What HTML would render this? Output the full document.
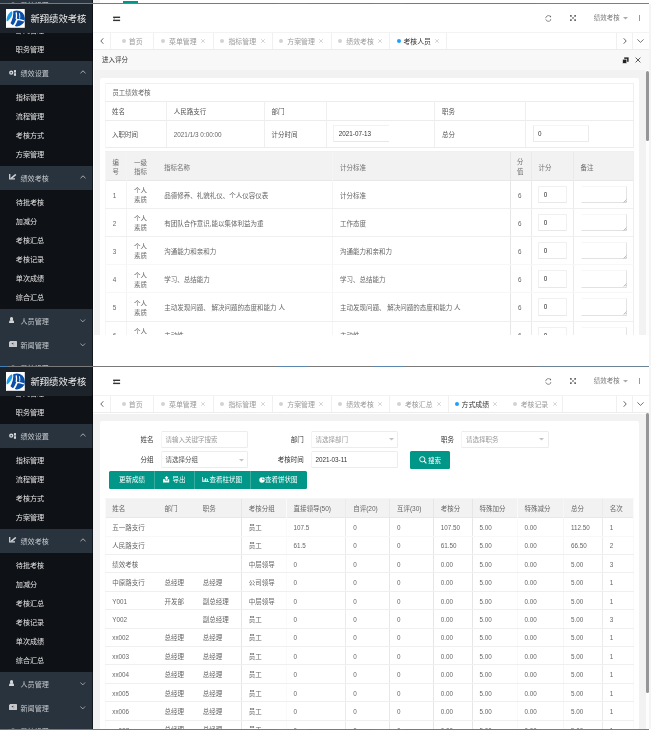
<!DOCTYPE html><html><head><meta charset="utf-8"><style>

*{margin:0;padding:0;box-sizing:border-box}
html,body{width:651px;height:732px;overflow:hidden;background:#fff}
body{position:relative;font-family:"Liberation Sans","Noto Sans CJK SC",sans-serif;font-size:6.5px;color:#333;line-height:1}
.abs{position:absolute}
.scr{position:absolute;left:0;width:651px;height:362px;overflow:hidden;background:#fff}
.sep{position:absolute;left:0;width:649px;height:1px;background:#7a7a7a;z-index:20}
.sep i{position:absolute;top:0;height:1px;background:#5a86b0}
.side{position:absolute;left:0;top:0;width:93px;height:362px;background:#0e1116;overflow:hidden}
.side .menu{position:absolute;left:0;top:16.2px;width:93px}
.sub{background:#0e1116;padding:2.3px 0}
.sub div{height:19.1px;line-height:23.1px;padding-left:15.8px;color:#e2e2e2;font-size:7.1px;white-space:nowrap}
.grp{height:24px;line-height:26.4px;background:#28333d;color:#c4c8cc;font-size:7.1px;position:relative;padding-left:20.5px;white-space:nowrap}
.grp svg{position:absolute}
.logo{position:absolute;left:0;top:0;width:93px;height:28.6px;background:#1d232b;z-index:2}
.logo .t{position:absolute;left:30.5px;top:10.8px;font-size:9.3px;color:#eeeeee;white-space:nowrap}
.sline{position:absolute;left:92px;top:0;width:1px;height:362px;background:rgba(0,0,0,0.5);z-index:3}
.hdr{position:absolute;left:93px;top:0;width:558px;height:28px;background:#fff}
.tabs{position:absolute;left:93px;top:28px;width:556px;height:17.6px;background:#fff;border-top:1px solid #f3f3f3;border-bottom:1px solid #ececec}
.tab{position:absolute;top:0;height:16px;border-left:1px solid #f0f0f0;color:#999;font-size:6.5px;line-height:16px;white-space:nowrap}
.tab .d{position:absolute;top:6px;width:4px;height:4px;border-radius:50%;background:#d2d2d2}
.tab .x{position:absolute;top:0;color:#b5b5b5;font-size:6.5px}
.rstrip{position:absolute;left:649px;top:0;width:2px;height:362px;background:#f4f4f4;z-index:5}
.main{position:absolute;left:94px;top:45.6px;width:555px;height:316.4px;background:#f2f2f2}

</style></head><body>
<div class="abs" style="left:0;top:0;width:651px;height:3px;overflow:hidden"><div class="abs" style="left:0;top:-359px;width:651px;height:362px"><div class="side"><div class="menu"><div class="sub" style="padding-top:0"><div>部门管理</div><div>职务管理</div></div><div class="grp"><svg style="left:9px;top:9.5px" width="8" height="6.4" viewBox="0 0 8 6.4"><circle cx="2.2" cy="2.75" r="1.45" fill="none" stroke="#d4d6d9" stroke-width="1.35"/><rect x="4.9" y="0.1" width="2.1" height="2.5" fill="#d4d6d9"/><rect x="4.9" y="3.2" width="2.1" height="2.6" fill="#d4d6d9"/><rect x="4.9" y="2.5" width="1.2" height="0.8" fill="#8a9096"/></svg>绩效设置<svg style="left:80px;top:9.7px" width="6" height="4" viewBox="0 0 6 4"><path d="M0.5 3.2 L3 0.8 L5.5 3.2" stroke="#c9cdd1" stroke-width="0.8" fill="none"/></svg></div><div class="sub"><div>指标管理</div><div>流程管理</div><div>考核方式</div><div>方案管理</div></div><div class="grp"><svg style="left:8.8px;top:8.2px" width="8" height="6" viewBox="0 0 8 6"><path d="M0.7 0 V4.8 H6" stroke="#d0d2d6" stroke-width="1.3" fill="none"/><path d="M2.2 4.3 L6.8 0.5" stroke="#d0d2d6" stroke-width="1.6"/></svg>绩效考核<svg style="left:80px;top:9.7px" width="6" height="4" viewBox="0 0 6 4"><path d="M0.5 3.2 L3 0.8 L5.5 3.2" stroke="#c9cdd1" stroke-width="0.8" fill="none"/></svg></div><div class="sub"><div>待批考核</div><div>加减分</div><div>考核汇总</div><div>考核记录</div><div>单次成绩</div><div>综合汇总</div></div><div class="grp"><svg style="left:9px;top:8px" width="5.2" height="6.2" viewBox="0 0 5.2 6.2"><ellipse cx="2.55" cy="1.9" rx="1.6" ry="1.9" fill="#d6d6d6"/><path d="M0 6.1 L0.3 3.9 Q0.6 3.3 1.6 3.3 H3.5 Q4.5 3.3 4.8 3.9 L5.1 6.1Z" fill="#d6d6d6"/></svg>人员管理<svg style="left:79.7px;top:10.6px" width="6" height="4" viewBox="0 0 6 4"><path d="M0.4 0.5 L2.75 2.9 L5.1 0.5" stroke="#c9cdd1" stroke-width="0.7" fill="none"/></svg></div><div class="grp"><svg style="left:8.9px;top:8px" width="8" height="6" viewBox="0 0 8 6"><rect x="0" y="0" width="8" height="5.9" rx="0.5" fill="#c6c8cb"/><rect x="0" y="0" width="0.8" height="0.8" fill="#29323c"/><ellipse cx="3.5" cy="2.6" rx="0.9" ry="0.6" fill="#3a4048"/><rect x="4.6" y="1.4" width="0.5" height="3.4" fill="#8c9096"/></svg>新闻管理<svg style="left:79.7px;top:10.6px" width="6" height="4" viewBox="0 0 6 4"><path d="M0.4 0.5 L2.75 2.9 L5.1 0.5" stroke="#c9cdd1" stroke-width="0.7" fill="none"/></svg></div><div class="grp" style="line-height:24.6px"><svg style="left:10px;top:8.2px" width="6" height="6" viewBox="0 0 6 6"><circle cx="3" cy="3" r="2.2" fill="none" stroke="#c0c4c8" stroke-width="0.8"/></svg>系统设置<svg style="left:79.7px;top:10.6px" width="6" height="4" viewBox="0 0 6 4"><path d="M0.4 0.5 L2.75 2.9 L5.1 0.5" stroke="#c9cdd1" stroke-width="0.7" fill="none"/></svg></div></div></div><div class="logo"><svg class="abs" style="left:6.3px;top:4.9px" width="18.8" height="18.8" viewBox="0 0 18.8 18.8"><rect width="18.8" height="18.8" fill="#fff"/><circle cx="10.9" cy="9.4" r="8.0" fill="#0a4ea8"/><path d="M0 0 H6.9 Q8.6 8.2 3.2 16.6 L0 18.8 Z" fill="#fff"/><path d="M5.9 2.2 C7.6 4.6 4.6 10.6 0.7 12.6 C0 9.4 1.8 4 5.9 2.2 Z" fill="#1a9fe8"/><path d="M10.2 3.4 Q10.9 7 10.2 10.2" stroke="#fff" stroke-width="1.3" fill="none"/><path d="M11.2 10.2 Q9.6 14.5 7.2 17.6" stroke="#fff" stroke-width="1.8" fill="none"/><path d="M10.8 10.3 Q14.5 10.4 17.9 11.8" stroke="#fff" stroke-width="1.3" fill="none"/><path d="M13.4 4.2 Q14.2 7.5 13.6 9.6" stroke="#fff" stroke-width="0.9" fill="none"/></svg><div class="t">新翔绩效考核</div></div><div class="sline"></div></div></div>
<div class="abs" style="left:123px;top:1px;width:15px;height:2px;background:#009688"></div>
<div class="abs" style="left:93px;top:0;width:7px;height:3px;background:#f2f2f2"></div>
<div class="sep" style="top:3px"><i style="left:0;width:8px;background:#3f7fb5"></i><i style="left:277px;width:31px"></i><i style="left:373px;width:31px"></i><i style="left:537px;width:112px;background:#6c8297"></i></div>
<div class="scr" id="A" style="top:4px"><div class="side"><div class="menu"><div class="sub" style="padding-top:0"><div>部门管理</div><div>职务管理</div></div><div class="grp"><svg style="left:9px;top:9.5px" width="8" height="6.4" viewBox="0 0 8 6.4"><circle cx="2.2" cy="2.75" r="1.45" fill="none" stroke="#d4d6d9" stroke-width="1.35"/><rect x="4.9" y="0.1" width="2.1" height="2.5" fill="#d4d6d9"/><rect x="4.9" y="3.2" width="2.1" height="2.6" fill="#d4d6d9"/><rect x="4.9" y="2.5" width="1.2" height="0.8" fill="#8a9096"/></svg>绩效设置<svg style="left:80px;top:9.7px" width="6" height="4" viewBox="0 0 6 4"><path d="M0.5 3.2 L3 0.8 L5.5 3.2" stroke="#c9cdd1" stroke-width="0.8" fill="none"/></svg></div><div class="sub"><div>指标管理</div><div>流程管理</div><div>考核方式</div><div>方案管理</div></div><div class="grp"><svg style="left:8.8px;top:8.2px" width="8" height="6" viewBox="0 0 8 6"><path d="M0.7 0 V4.8 H6" stroke="#d0d2d6" stroke-width="1.3" fill="none"/><path d="M2.2 4.3 L6.8 0.5" stroke="#d0d2d6" stroke-width="1.6"/></svg>绩效考核<svg style="left:80px;top:9.7px" width="6" height="4" viewBox="0 0 6 4"><path d="M0.5 3.2 L3 0.8 L5.5 3.2" stroke="#c9cdd1" stroke-width="0.8" fill="none"/></svg></div><div class="sub"><div>待批考核</div><div>加减分</div><div>考核汇总</div><div>考核记录</div><div>单次成绩</div><div>综合汇总</div></div><div class="grp"><svg style="left:9px;top:8px" width="5.2" height="6.2" viewBox="0 0 5.2 6.2"><ellipse cx="2.55" cy="1.9" rx="1.6" ry="1.9" fill="#d6d6d6"/><path d="M0 6.1 L0.3 3.9 Q0.6 3.3 1.6 3.3 H3.5 Q4.5 3.3 4.8 3.9 L5.1 6.1Z" fill="#d6d6d6"/></svg>人员管理<svg style="left:79.7px;top:10.6px" width="6" height="4" viewBox="0 0 6 4"><path d="M0.4 0.5 L2.75 2.9 L5.1 0.5" stroke="#c9cdd1" stroke-width="0.7" fill="none"/></svg></div><div class="grp"><svg style="left:8.9px;top:8px" width="8" height="6" viewBox="0 0 8 6"><rect x="0" y="0" width="8" height="5.9" rx="0.5" fill="#c6c8cb"/><rect x="0" y="0" width="0.8" height="0.8" fill="#29323c"/><ellipse cx="3.5" cy="2.6" rx="0.9" ry="0.6" fill="#3a4048"/><rect x="4.6" y="1.4" width="0.5" height="3.4" fill="#8c9096"/></svg>新闻管理<svg style="left:79.7px;top:10.6px" width="6" height="4" viewBox="0 0 6 4"><path d="M0.4 0.5 L2.75 2.9 L5.1 0.5" stroke="#c9cdd1" stroke-width="0.7" fill="none"/></svg></div><div class="grp" style="line-height:24.6px"><svg style="left:10px;top:8.2px" width="6" height="6" viewBox="0 0 6 6"><circle cx="3" cy="3" r="2.2" fill="none" stroke="#c0c4c8" stroke-width="0.8"/></svg>系统设置<svg style="left:79.7px;top:10.6px" width="6" height="4" viewBox="0 0 6 4"><path d="M0.4 0.5 L2.75 2.9 L5.1 0.5" stroke="#c9cdd1" stroke-width="0.7" fill="none"/></svg></div></div></div><div class="logo"><svg class="abs" style="left:6.3px;top:4.9px" width="18.8" height="18.8" viewBox="0 0 18.8 18.8"><rect width="18.8" height="18.8" fill="#fff"/><circle cx="10.9" cy="9.4" r="8.0" fill="#0a4ea8"/><path d="M0 0 H6.9 Q8.6 8.2 3.2 16.6 L0 18.8 Z" fill="#fff"/><path d="M5.9 2.2 C7.6 4.6 4.6 10.6 0.7 12.6 C0 9.4 1.8 4 5.9 2.2 Z" fill="#1a9fe8"/><path d="M10.2 3.4 Q10.9 7 10.2 10.2" stroke="#fff" stroke-width="1.3" fill="none"/><path d="M11.2 10.2 Q9.6 14.5 7.2 17.6" stroke="#fff" stroke-width="1.8" fill="none"/><path d="M10.8 10.3 Q14.5 10.4 17.9 11.8" stroke="#fff" stroke-width="1.3" fill="none"/><path d="M13.4 4.2 Q14.2 7.5 13.6 9.6" stroke="#fff" stroke-width="0.9" fill="none"/></svg><div class="t">新翔绩效考核</div></div><div class="sline"></div><div class="hdr"><svg class="abs" style="left:19.8px;top:11.5px" width="8" height="6" viewBox="0 0 8 6"><rect x="0.1" y="0.6" width="7" height="1.4" fill="#333"/><rect x="0.1" y="3.7" width="7" height="1.4" fill="#333"/><path d="M0.1 3.0 L1.9 2.2 L1.9 3.6Z" fill="#666"/></svg><svg class="abs" style="left:451.8px;top:10.8px" width="7" height="7" viewBox="0 0 7 7"><path d="M0.7 3.2 A2.7 2.7 0 0 1 4.6 0.9" stroke="#666" stroke-width="0.75" fill="none"/><path d="M4.3 0.6 L6.1 0.9 L5.7 2.7 Z" fill="#555"/><path d="M0.8 4.3 A2.7 2.7 0 0 0 5.6 5.2" stroke="#666" stroke-width="0.75" fill="none"/><path d="M5.0 4.2 L6.4 4.5 L5.6 6.1 Z" fill="#777"/></svg><svg class="abs" style="left:476.7px;top:10.8px" width="6" height="6" viewBox="0 0 6 6"><path d="M1 1 L5 5 M5 1 L1 5" stroke="#666" stroke-width="0.6"/><path d="M0 0 H2.2 L0 2.2Z M6 0 H3.8 L6 2.2Z M0 6 H2.2 L0 3.8Z M6 6 H3.8 L6 3.8Z" fill="#666"/></svg><div class="abs" style="left:500.8px;top:10.5px;font-size:6.5px;color:#777;white-space:nowrap">绩效考核</div><svg class="abs" style="left:529.5px;top:13px" width="5" height="3" viewBox="0 0 5 3"><path d="M0 0 H5 L2.5 2.6Z" fill="#aaa"/></svg><div class="abs" style="left:545.5px;top:11px;width:1px;height:5.8px;background:#9a94b0"></div></div><div class="tabs"><svg class="abs" style="left:6.5px;top:4.9px" width="4" height="6" viewBox="0 0 4 6"><path d="M3.3 0.3 L0.8 3 L3.3 5.7" stroke="#333" stroke-width="0.75" fill="none"/></svg><div class="tab" style="left:16.60px;width:43.80px;"><span class="d" style="left:11.50px;background:#d2d2d2"></span><span class="abs" style="left:18.20px;top:5.95px;font-size:6.9px;line-height:1;color:#9a9a9a">首页</span></div><div class="tab" style="left:60.40px;width:59.40px;"><span class="d" style="left:6.50px;background:#d2d2d2"></span><span class="abs" style="left:14.70px;top:5.95px;font-size:6.9px;line-height:1;color:#9a9a9a">菜单管理</span><svg class="abs" style="left:46.80px;top:5.9px" width="4" height="4" viewBox="0 0 4 4"><path d="M0.2 0.2 L3.8 3.8 M3.8 0.2 L0.2 3.8" stroke="#b8b8b8" stroke-width="0.6"/></svg></div><div class="tab" style="left:119.80px;width:58.80px;"><span class="d" style="left:6.50px;background:#d2d2d2"></span><span class="abs" style="left:14.70px;top:5.95px;font-size:6.9px;line-height:1;color:#9a9a9a">指标管理</span><svg class="abs" style="left:46.80px;top:5.9px" width="4" height="4" viewBox="0 0 4 4"><path d="M0.2 0.2 L3.8 3.8 M3.8 0.2 L0.2 3.8" stroke="#b8b8b8" stroke-width="0.6"/></svg></div><div class="tab" style="left:178.60px;width:59.00px;"><span class="d" style="left:6.50px;background:#d2d2d2"></span><span class="abs" style="left:14.70px;top:5.95px;font-size:6.9px;line-height:1;color:#9a9a9a">方案管理</span><svg class="abs" style="left:46.80px;top:5.9px" width="4" height="4" viewBox="0 0 4 4"><path d="M0.2 0.2 L3.8 3.8 M3.8 0.2 L0.2 3.8" stroke="#b8b8b8" stroke-width="0.6"/></svg></div><div class="tab" style="left:237.60px;width:58.80px;"><span class="d" style="left:6.50px;background:#d2d2d2"></span><span class="abs" style="left:14.70px;top:5.95px;font-size:6.9px;line-height:1;color:#9a9a9a">绩效考核</span><svg class="abs" style="left:46.80px;top:5.9px" width="4" height="4" viewBox="0 0 4 4"><path d="M0.2 0.2 L3.8 3.8 M3.8 0.2 L0.2 3.8" stroke="#b8b8b8" stroke-width="0.6"/></svg></div><div class="tab" style="left:296.40px;width:56.90px;"><span class="d" style="left:6.50px;background:#1E9FFF"></span><span class="abs" style="left:13.00px;top:5.95px;font-size:6.9px;line-height:1;color:#333">考核人员</span><svg class="abs" style="left:44.60px;top:5.9px" width="4" height="4" viewBox="0 0 4 4"><path d="M0.2 0.2 L3.8 3.8 M3.8 0.2 L0.2 3.8" stroke="#b8b8b8" stroke-width="0.6"/></svg></div><div class="abs" style="left:352.80px;top:0;width:1px;height:16px;background:#f0f0f0"></div><div class="tab" style="left:523px;width:16px"></div><svg class="abs" style="left:529.6px;top:4.7px" width="4" height="6" viewBox="0 0 4 6"><path d="M0.7 0.3 L3.2 3 L0.7 5.7" stroke="#333" stroke-width="0.75" fill="none"/></svg><div class="tab" style="left:539px;width:17px"></div><svg class="abs" style="left:544px;top:5.8px" width="7" height="4" viewBox="0 0 7 4"><path d="M0.4 0.4 L3.5 3.4 L6.6 0.4" stroke="#444" stroke-width="0.75" fill="none"/></svg></div><div class="abs" style="left:94.00px;top:45.60px;width:555.00px;height:20.40px;background:#f8f8f8"></div><span class="abs" style="left:102.00px;top:53.35px;font-size:6.5px;color:#333;white-space:nowrap;">进入评分</span><svg class="abs" style="left:621.5px;top:53px" width="7" height="7" viewBox="0 0 7 7"><rect x="2.2" y="0.4" width="4.4" height="4.4" fill="#222"/><rect x="0.4" y="2.2" width="4.4" height="4.4" fill="#222" stroke="#f8f8f8" stroke-width="0.7"/></svg><svg class="abs" style="left:635px;top:53.3px" width="6" height="6" viewBox="0 0 6 6"><path d="M0.6 0.6 L5.4 5.4 M5.4 0.6 L0.6 5.4" stroke="#333" stroke-width="0.8"/></svg><div class="abs" style="left:94.00px;top:66.00px;width:555.00px;height:264.60px;background:#f2f2f2;overflow:hidden"></div><div class="abs" style="left:646.00px;top:66.00px;width:3.00px;height:264.60px;background:#fdfdfd"></div><div class="abs" style="left:646.00px;top:66.90px;width:3.00px;height:70.20px;background:#959597;border-radius:1.5px"></div><div class="abs" style="left:100.00px;top:74.00px;width:538.60px;height:256.60px;background:#fff;border-radius:2px 2px 0 0"></div><div class="abs" style="left:105.00px;top:79.00px;width:529.00px;height:1.00px;background:#efefef"></div><div class="abs" style="left:105.00px;top:143.00px;width:529.00px;height:1.00px;background:#ececec"></div><div class="abs" style="left:105.00px;top:79.00px;width:1.00px;height:65.00px;background:#f7f7f7"></div><div class="abs" style="left:633.00px;top:79.00px;width:1.00px;height:65.00px;background:#efefef"></div><div class="abs" style="left:105.00px;top:97.00px;width:529.00px;height:1.00px;background:#ececec"></div><div class="abs" style="left:105.00px;top:116.00px;width:529.00px;height:1.00px;background:#ececec"></div><div class="abs" style="left:166.00px;top:97.00px;width:1.00px;height:46.00px;background:#efefef"></div><div class="abs" style="left:264.00px;top:97.00px;width:1.00px;height:46.00px;background:#efefef"></div><div class="abs" style="left:326.00px;top:97.00px;width:1.00px;height:46.00px;background:#efefef"></div><div class="abs" style="left:434.00px;top:97.00px;width:1.00px;height:46.00px;background:#efefef"></div><div class="abs" style="left:525.00px;top:97.00px;width:1.00px;height:46.00px;background:#efefef"></div><span class="abs" style="left:112.40px;top:86.38px;font-size:6.4px;color:#666;white-space:nowrap;">员工绩效考核</span><span class="abs" style="left:112.00px;top:105.25px;font-size:6.5px;color:#555;white-space:nowrap;">姓名</span><span class="abs" style="left:173.70px;top:105.25px;font-size:6.5px;color:#555;white-space:nowrap;">人民路支行</span><span class="abs" style="left:271.40px;top:105.25px;font-size:6.5px;color:#555;white-space:nowrap;">部门</span><span class="abs" style="left:442.00px;top:105.25px;font-size:6.5px;color:#555;white-space:nowrap;">职务</span><span class="abs" style="left:112.00px;top:128.15px;font-size:6.5px;color:#555;white-space:nowrap;">入职时间</span><span class="abs" style="left:173.70px;top:128.18px;font-size:6.4px;color:#666;white-space:nowrap;">2021/1/3 0:00:00</span><span class="abs" style="left:271.40px;top:128.15px;font-size:6.5px;color:#555;white-space:nowrap;">计分时间</span><span class="abs" style="left:442.00px;top:128.15px;font-size:6.5px;color:#555;white-space:nowrap;">总分</span><div class="abs" style="left:333.30px;top:121.20px;width:55.30px;height:17.10px;border:1px solid #f2f2f2;border-right:none;border-bottom-color:#e8e8e8;background:#fff"></div><span class="abs" style="left:338.80px;top:127.31px;font-size:6.3px;color:#333;white-space:nowrap;">2021-07-13</span><div class="abs" style="left:533.20px;top:121.20px;width:55.40px;height:17.00px;border:1px solid #ebebeb;border-top-color:#f5f5f5;background:#fff"></div><span class="abs" style="left:537.90px;top:127.31px;font-size:6.3px;color:#333;white-space:nowrap;">0</span><div class="abs" style="left:105.00px;top:148.00px;width:529.00px;height:28.00px;background:#f2f2f2"></div><div class="abs" style="left:105.00px;top:147.00px;width:529.00px;height:1.00px;background:#f0f0f0"></div><div class="abs" style="left:105.00px;top:176.00px;width:529.00px;height:1.00px;background:#e8e8e8"></div><div class="abs" style="left:105.00px;top:148.00px;width:1.00px;height:182.60px;background:#f7f7f7"></div><div class="abs" style="left:126.00px;top:148.00px;width:1.00px;height:182.60px;background:#f4f4f4"></div><div class="abs" style="left:332.00px;top:148.00px;width:1.00px;height:182.60px;background:#f5f5f5"></div><div class="abs" style="left:510.00px;top:148.00px;width:1.00px;height:182.60px;background:#e6e6e6"></div><div class="abs" style="left:531.00px;top:148.00px;width:1.00px;height:182.60px;background:#eaeaea"></div><div class="abs" style="left:573.00px;top:148.00px;width:1.00px;height:182.60px;background:#eaeaea"></div><div class="abs" style="left:633.00px;top:148.00px;width:1.00px;height:182.60px;background:#eeeeee"></div><div class="abs" style="left:105.00px;top:204.00px;width:529.00px;height:1.00px;background:#efefef"></div><div class="abs" style="left:105.00px;top:232.00px;width:529.00px;height:1.00px;background:#efefef"></div><div class="abs" style="left:105.00px;top:260.00px;width:529.00px;height:1.00px;background:#f7f7f7"></div><div class="abs" style="left:105.00px;top:288.00px;width:529.00px;height:1.00px;background:#f7f7f7"></div><div class="abs" style="left:105.00px;top:317.00px;width:529.00px;height:1.00px;background:#efefef"></div><span class="abs" style="left:112.50px;top:155.71px;font-size:6.3px;color:#707070;white-space:nowrap;">编</span><span class="abs" style="left:112.50px;top:164.71px;font-size:6.3px;color:#707070;white-space:nowrap;">号</span><span class="abs" style="left:134.10px;top:155.95px;font-size:6.5px;color:#707070;white-space:nowrap;">一级</span><span class="abs" style="left:134.10px;top:164.95px;font-size:6.5px;color:#707070;white-space:nowrap;">指标</span><span class="abs" style="left:164.00px;top:160.75px;font-size:6.5px;color:#707070;white-space:nowrap;">指标名称</span><span class="abs" style="left:340.00px;top:160.75px;font-size:6.5px;color:#707070;white-space:nowrap;">计分标准</span><span class="abs" style="left:517.00px;top:155.41px;font-size:6.3px;color:#707070;white-space:nowrap;">分</span><span class="abs" style="left:517.00px;top:164.61px;font-size:6.3px;color:#707070;white-space:nowrap;">值</span><span class="abs" style="left:538.50px;top:160.75px;font-size:6.5px;color:#707070;white-space:nowrap;">计分</span><span class="abs" style="left:580.60px;top:160.75px;font-size:6.5px;color:#707070;white-space:nowrap;">备注</span><span class="abs" style="left:112.80px;top:189.01px;font-size:6.3px;color:#666;white-space:nowrap;">1</span><span class="abs" style="left:134.10px;top:184.45px;font-size:6.5px;color:#666;white-space:nowrap;">个人</span><span class="abs" style="left:134.10px;top:193.45px;font-size:6.5px;color:#666;white-space:nowrap;">素质</span><span class="abs" style="left:164.30px;top:188.95px;font-size:6.5px;color:#666;white-space:nowrap;">品德修养、礼貌礼仪、个人仪容仪表</span><span class="abs" style="left:340.00px;top:188.95px;font-size:6.5px;color:#666;white-space:nowrap;">计分标准</span><span class="abs" style="left:518.00px;top:189.01px;font-size:6.3px;color:#666;white-space:nowrap;">6</span><div class="abs" style="left:538.30px;top:182.30px;width:28.30px;height:17.20px;border:1px solid #f0f0f0;border-bottom-color:#e8e8e8;background:#fff;border-radius:1px"></div><span class="abs" style="left:543.80px;top:188.21px;font-size:6.3px;color:#222;white-space:nowrap;">0</span><div class="abs" style="left:580.70px;top:182.30px;width:46.20px;height:17.20px;border:1px solid #f7f7f7;border-left-color:#fff;border-right-color:#e4e4e4;border-bottom-color:#e2e2e2;background:#fff"></div><svg class="abs" style="left:622.5px;top:195.10px" width="4" height="4" viewBox="0 0 4 4"><path d="M0.5 3.5 L3.5 0.5 M2 3.5 L3.5 2" stroke="#888" stroke-width="0.5"/></svg><span class="abs" style="left:112.80px;top:216.81px;font-size:6.3px;color:#666;white-space:nowrap;">2</span><span class="abs" style="left:134.10px;top:212.25px;font-size:6.5px;color:#666;white-space:nowrap;">个人</span><span class="abs" style="left:134.10px;top:221.25px;font-size:6.5px;color:#666;white-space:nowrap;">素质</span><span class="abs" style="left:164.30px;top:216.75px;font-size:6.5px;color:#666;white-space:nowrap;">有团队合作意识,能以集体利益为重</span><span class="abs" style="left:340.00px;top:216.75px;font-size:6.5px;color:#666;white-space:nowrap;">工作态度</span><span class="abs" style="left:518.00px;top:216.81px;font-size:6.3px;color:#666;white-space:nowrap;">6</span><div class="abs" style="left:538.30px;top:210.10px;width:28.30px;height:17.20px;border:1px solid #f0f0f0;border-bottom-color:#e8e8e8;background:#fff;border-radius:1px"></div><span class="abs" style="left:543.80px;top:216.01px;font-size:6.3px;color:#222;white-space:nowrap;">0</span><div class="abs" style="left:580.70px;top:210.10px;width:46.20px;height:17.20px;border:1px solid #f7f7f7;border-left-color:#fff;border-right-color:#e4e4e4;border-bottom-color:#e2e2e2;background:#fff"></div><svg class="abs" style="left:622.5px;top:222.90px" width="4" height="4" viewBox="0 0 4 4"><path d="M0.5 3.5 L3.5 0.5 M2 3.5 L3.5 2" stroke="#888" stroke-width="0.5"/></svg><span class="abs" style="left:112.80px;top:244.91px;font-size:6.3px;color:#666;white-space:nowrap;">3</span><span class="abs" style="left:134.10px;top:240.35px;font-size:6.5px;color:#666;white-space:nowrap;">个人</span><span class="abs" style="left:134.10px;top:249.35px;font-size:6.5px;color:#666;white-space:nowrap;">素质</span><span class="abs" style="left:164.30px;top:244.85px;font-size:6.5px;color:#666;white-space:nowrap;">沟通能力和亲和力</span><span class="abs" style="left:340.00px;top:244.85px;font-size:6.5px;color:#666;white-space:nowrap;">沟通能力和亲和力</span><span class="abs" style="left:518.00px;top:244.91px;font-size:6.3px;color:#666;white-space:nowrap;">6</span><div class="abs" style="left:538.30px;top:238.20px;width:28.30px;height:17.20px;border:1px solid #f0f0f0;border-bottom-color:#e8e8e8;background:#fff;border-radius:1px"></div><span class="abs" style="left:543.80px;top:244.11px;font-size:6.3px;color:#222;white-space:nowrap;">0</span><div class="abs" style="left:580.70px;top:238.20px;width:46.20px;height:17.20px;border:1px solid #f7f7f7;border-left-color:#fff;border-right-color:#e4e4e4;border-bottom-color:#e2e2e2;background:#fff"></div><svg class="abs" style="left:622.5px;top:251.00px" width="4" height="4" viewBox="0 0 4 4"><path d="M0.5 3.5 L3.5 0.5 M2 3.5 L3.5 2" stroke="#888" stroke-width="0.5"/></svg><span class="abs" style="left:112.80px;top:273.11px;font-size:6.3px;color:#666;white-space:nowrap;">4</span><span class="abs" style="left:134.10px;top:268.55px;font-size:6.5px;color:#666;white-space:nowrap;">个人</span><span class="abs" style="left:134.10px;top:277.55px;font-size:6.5px;color:#666;white-space:nowrap;">素质</span><span class="abs" style="left:164.30px;top:273.05px;font-size:6.5px;color:#666;white-space:nowrap;">学习、总结能力</span><span class="abs" style="left:340.00px;top:273.05px;font-size:6.5px;color:#666;white-space:nowrap;">学习、总结能力</span><span class="abs" style="left:518.00px;top:273.11px;font-size:6.3px;color:#666;white-space:nowrap;">6</span><div class="abs" style="left:538.30px;top:266.40px;width:28.30px;height:17.20px;border:1px solid #f0f0f0;border-bottom-color:#e8e8e8;background:#fff;border-radius:1px"></div><span class="abs" style="left:543.80px;top:272.31px;font-size:6.3px;color:#222;white-space:nowrap;">0</span><div class="abs" style="left:580.70px;top:266.40px;width:46.20px;height:17.20px;border:1px solid #f7f7f7;border-left-color:#fff;border-right-color:#e4e4e4;border-bottom-color:#e2e2e2;background:#fff"></div><svg class="abs" style="left:622.5px;top:279.20px" width="4" height="4" viewBox="0 0 4 4"><path d="M0.5 3.5 L3.5 0.5 M2 3.5 L3.5 2" stroke="#888" stroke-width="0.5"/></svg><span class="abs" style="left:112.80px;top:301.11px;font-size:6.3px;color:#666;white-space:nowrap;">5</span><span class="abs" style="left:134.10px;top:296.55px;font-size:6.5px;color:#666;white-space:nowrap;">个人</span><span class="abs" style="left:134.10px;top:305.55px;font-size:6.5px;color:#666;white-space:nowrap;">素质</span><span class="abs" style="left:164.30px;top:301.05px;font-size:6.5px;color:#666;white-space:nowrap;">主动发现问题、 解决问题的态度和能力 人</span><span class="abs" style="left:340.00px;top:301.05px;font-size:6.5px;color:#666;white-space:nowrap;">主动发现问题、 解决问题的态度和能力 人</span><span class="abs" style="left:518.00px;top:301.11px;font-size:6.3px;color:#666;white-space:nowrap;">6</span><div class="abs" style="left:538.30px;top:294.40px;width:28.30px;height:17.20px;border:1px solid #f0f0f0;border-bottom-color:#e8e8e8;background:#fff;border-radius:1px"></div><span class="abs" style="left:543.80px;top:300.31px;font-size:6.3px;color:#222;white-space:nowrap;">0</span><div class="abs" style="left:580.70px;top:294.40px;width:46.20px;height:17.20px;border:1px solid #f7f7f7;border-left-color:#fff;border-right-color:#e4e4e4;border-bottom-color:#e2e2e2;background:#fff"></div><svg class="abs" style="left:622.5px;top:307.20px" width="4" height="4" viewBox="0 0 4 4"><path d="M0.5 3.5 L3.5 0.5 M2 3.5 L3.5 2" stroke="#888" stroke-width="0.5"/></svg><span class="abs" style="left:112.80px;top:329.31px;font-size:6.3px;color:#666;white-space:nowrap;">6</span><span class="abs" style="left:134.10px;top:324.75px;font-size:6.5px;color:#666;white-space:nowrap;">个人</span><span class="abs" style="left:134.10px;top:333.75px;font-size:6.5px;color:#666;white-space:nowrap;">素质</span><span class="abs" style="left:164.30px;top:329.25px;font-size:6.5px;color:#666;white-space:nowrap;">主动性</span><span class="abs" style="left:340.00px;top:329.25px;font-size:6.5px;color:#666;white-space:nowrap;">主动性</span><span class="abs" style="left:518.00px;top:329.31px;font-size:6.3px;color:#666;white-space:nowrap;">6</span><div class="abs" style="left:538.30px;top:322.60px;width:28.30px;height:17.20px;border:1px solid #f0f0f0;border-bottom-color:#e8e8e8;background:#fff;border-radius:1px"></div><span class="abs" style="left:543.80px;top:328.51px;font-size:6.3px;color:#222;white-space:nowrap;">0</span><div class="abs" style="left:580.70px;top:322.60px;width:46.20px;height:17.20px;border:1px solid #f7f7f7;border-left-color:#fff;border-right-color:#e4e4e4;border-bottom-color:#e2e2e2;background:#fff"></div><svg class="abs" style="left:622.5px;top:335.40px" width="4" height="4" viewBox="0 0 4 4"><path d="M0.5 3.5 L3.5 0.5 M2 3.5 L3.5 2" stroke="#888" stroke-width="0.5"/></svg><div class="abs" style="left:93.00px;top:330.60px;width:556.00px;height:31.40px;background:#fff"></div><div class="rstrip"></div></div>
<div class="sep" style="top:366px"><i style="left:0;width:8px;background:#3f7fb5"></i><i style="left:277px;width:31px"></i><i style="left:373px;width:31px"></i><i style="left:537px;width:112px;background:#6c8297"></i></div>
<div class="scr" id="B" style="top:367px"><div class="side"><div class="menu"><div class="sub" style="padding-top:0"><div>部门管理</div><div>职务管理</div></div><div class="grp"><svg style="left:9px;top:9.5px" width="8" height="6.4" viewBox="0 0 8 6.4"><circle cx="2.2" cy="2.75" r="1.45" fill="none" stroke="#d4d6d9" stroke-width="1.35"/><rect x="4.9" y="0.1" width="2.1" height="2.5" fill="#d4d6d9"/><rect x="4.9" y="3.2" width="2.1" height="2.6" fill="#d4d6d9"/><rect x="4.9" y="2.5" width="1.2" height="0.8" fill="#8a9096"/></svg>绩效设置<svg style="left:80px;top:9.7px" width="6" height="4" viewBox="0 0 6 4"><path d="M0.5 3.2 L3 0.8 L5.5 3.2" stroke="#c9cdd1" stroke-width="0.8" fill="none"/></svg></div><div class="sub"><div>指标管理</div><div>流程管理</div><div>考核方式</div><div>方案管理</div></div><div class="grp"><svg style="left:8.8px;top:8.2px" width="8" height="6" viewBox="0 0 8 6"><path d="M0.7 0 V4.8 H6" stroke="#d0d2d6" stroke-width="1.3" fill="none"/><path d="M2.2 4.3 L6.8 0.5" stroke="#d0d2d6" stroke-width="1.6"/></svg>绩效考核<svg style="left:80px;top:9.7px" width="6" height="4" viewBox="0 0 6 4"><path d="M0.5 3.2 L3 0.8 L5.5 3.2" stroke="#c9cdd1" stroke-width="0.8" fill="none"/></svg></div><div class="sub"><div>待批考核</div><div>加减分</div><div>考核汇总</div><div>考核记录</div><div>单次成绩</div><div>综合汇总</div></div><div class="grp"><svg style="left:9px;top:8px" width="5.2" height="6.2" viewBox="0 0 5.2 6.2"><ellipse cx="2.55" cy="1.9" rx="1.6" ry="1.9" fill="#d6d6d6"/><path d="M0 6.1 L0.3 3.9 Q0.6 3.3 1.6 3.3 H3.5 Q4.5 3.3 4.8 3.9 L5.1 6.1Z" fill="#d6d6d6"/></svg>人员管理<svg style="left:79.7px;top:10.6px" width="6" height="4" viewBox="0 0 6 4"><path d="M0.4 0.5 L2.75 2.9 L5.1 0.5" stroke="#c9cdd1" stroke-width="0.7" fill="none"/></svg></div><div class="grp"><svg style="left:8.9px;top:8px" width="8" height="6" viewBox="0 0 8 6"><rect x="0" y="0" width="8" height="5.9" rx="0.5" fill="#c6c8cb"/><rect x="0" y="0" width="0.8" height="0.8" fill="#29323c"/><ellipse cx="3.5" cy="2.6" rx="0.9" ry="0.6" fill="#3a4048"/><rect x="4.6" y="1.4" width="0.5" height="3.4" fill="#8c9096"/></svg>新闻管理<svg style="left:79.7px;top:10.6px" width="6" height="4" viewBox="0 0 6 4"><path d="M0.4 0.5 L2.75 2.9 L5.1 0.5" stroke="#c9cdd1" stroke-width="0.7" fill="none"/></svg></div><div class="grp" style="line-height:24.6px"><svg style="left:10px;top:8.2px" width="6" height="6" viewBox="0 0 6 6"><circle cx="3" cy="3" r="2.2" fill="none" stroke="#c0c4c8" stroke-width="0.8"/></svg>系统设置<svg style="left:79.7px;top:10.6px" width="6" height="4" viewBox="0 0 6 4"><path d="M0.4 0.5 L2.75 2.9 L5.1 0.5" stroke="#c9cdd1" stroke-width="0.7" fill="none"/></svg></div></div></div><div class="logo"><svg class="abs" style="left:6.3px;top:4.9px" width="18.8" height="18.8" viewBox="0 0 18.8 18.8"><rect width="18.8" height="18.8" fill="#fff"/><circle cx="10.9" cy="9.4" r="8.0" fill="#0a4ea8"/><path d="M0 0 H6.9 Q8.6 8.2 3.2 16.6 L0 18.8 Z" fill="#fff"/><path d="M5.9 2.2 C7.6 4.6 4.6 10.6 0.7 12.6 C0 9.4 1.8 4 5.9 2.2 Z" fill="#1a9fe8"/><path d="M10.2 3.4 Q10.9 7 10.2 10.2" stroke="#fff" stroke-width="1.3" fill="none"/><path d="M11.2 10.2 Q9.6 14.5 7.2 17.6" stroke="#fff" stroke-width="1.8" fill="none"/><path d="M10.8 10.3 Q14.5 10.4 17.9 11.8" stroke="#fff" stroke-width="1.3" fill="none"/><path d="M13.4 4.2 Q14.2 7.5 13.6 9.6" stroke="#fff" stroke-width="0.9" fill="none"/></svg><div class="t">新翔绩效考核</div></div><div class="sline"></div><div class="hdr"><svg class="abs" style="left:19.8px;top:11.5px" width="8" height="6" viewBox="0 0 8 6"><rect x="0.1" y="0.6" width="7" height="1.4" fill="#333"/><rect x="0.1" y="3.7" width="7" height="1.4" fill="#333"/><path d="M0.1 3.0 L1.9 2.2 L1.9 3.6Z" fill="#666"/></svg><svg class="abs" style="left:451.8px;top:10.8px" width="7" height="7" viewBox="0 0 7 7"><path d="M0.7 3.2 A2.7 2.7 0 0 1 4.6 0.9" stroke="#666" stroke-width="0.75" fill="none"/><path d="M4.3 0.6 L6.1 0.9 L5.7 2.7 Z" fill="#555"/><path d="M0.8 4.3 A2.7 2.7 0 0 0 5.6 5.2" stroke="#666" stroke-width="0.75" fill="none"/><path d="M5.0 4.2 L6.4 4.5 L5.6 6.1 Z" fill="#777"/></svg><svg class="abs" style="left:476.7px;top:10.8px" width="6" height="6" viewBox="0 0 6 6"><path d="M1 1 L5 5 M5 1 L1 5" stroke="#666" stroke-width="0.6"/><path d="M0 0 H2.2 L0 2.2Z M6 0 H3.8 L6 2.2Z M0 6 H2.2 L0 3.8Z M6 6 H3.8 L6 3.8Z" fill="#666"/></svg><div class="abs" style="left:500.8px;top:10.5px;font-size:6.5px;color:#777;white-space:nowrap">绩效考核</div><svg class="abs" style="left:529.5px;top:13px" width="5" height="3" viewBox="0 0 5 3"><path d="M0 0 H5 L2.5 2.6Z" fill="#aaa"/></svg><div class="abs" style="left:545.5px;top:11px;width:1px;height:5.8px;background:#9a94b0"></div></div><div class="tabs"><svg class="abs" style="left:6.5px;top:4.9px" width="4" height="6" viewBox="0 0 4 6"><path d="M3.3 0.3 L0.8 3 L3.3 5.7" stroke="#333" stroke-width="0.75" fill="none"/></svg><div class="tab" style="left:16.60px;width:43.80px;"><span class="d" style="left:11.50px;background:#d2d2d2"></span><span class="abs" style="left:18.20px;top:5.95px;font-size:6.9px;line-height:1;color:#9a9a9a">首页</span></div><div class="tab" style="left:60.40px;width:59.40px;"><span class="d" style="left:6.50px;background:#d2d2d2"></span><span class="abs" style="left:14.70px;top:5.95px;font-size:6.9px;line-height:1;color:#9a9a9a">菜单管理</span><svg class="abs" style="left:46.80px;top:5.9px" width="4" height="4" viewBox="0 0 4 4"><path d="M0.2 0.2 L3.8 3.8 M3.8 0.2 L0.2 3.8" stroke="#b8b8b8" stroke-width="0.6"/></svg></div><div class="tab" style="left:119.80px;width:58.80px;"><span class="d" style="left:6.50px;background:#d2d2d2"></span><span class="abs" style="left:14.70px;top:5.95px;font-size:6.9px;line-height:1;color:#9a9a9a">指标管理</span><svg class="abs" style="left:46.80px;top:5.9px" width="4" height="4" viewBox="0 0 4 4"><path d="M0.2 0.2 L3.8 3.8 M3.8 0.2 L0.2 3.8" stroke="#b8b8b8" stroke-width="0.6"/></svg></div><div class="tab" style="left:178.60px;width:59.00px;"><span class="d" style="left:6.50px;background:#d2d2d2"></span><span class="abs" style="left:14.70px;top:5.95px;font-size:6.9px;line-height:1;color:#9a9a9a">方案管理</span><svg class="abs" style="left:46.80px;top:5.9px" width="4" height="4" viewBox="0 0 4 4"><path d="M0.2 0.2 L3.8 3.8 M3.8 0.2 L0.2 3.8" stroke="#b8b8b8" stroke-width="0.6"/></svg></div><div class="tab" style="left:237.60px;width:58.70px;"><span class="d" style="left:6.50px;background:#d2d2d2"></span><span class="abs" style="left:14.70px;top:5.95px;font-size:6.9px;line-height:1;color:#9a9a9a">绩效考核</span><svg class="abs" style="left:46.80px;top:5.9px" width="4" height="4" viewBox="0 0 4 4"><path d="M0.2 0.2 L3.8 3.8 M3.8 0.2 L0.2 3.8" stroke="#b8b8b8" stroke-width="0.6"/></svg></div><div class="tab" style="left:296.30px;width:58.30px;"><span class="d" style="left:6.50px;background:#d2d2d2"></span><span class="abs" style="left:14.70px;top:5.95px;font-size:6.9px;line-height:1;color:#9a9a9a">考核汇总</span><svg class="abs" style="left:46.80px;top:5.9px" width="4" height="4" viewBox="0 0 4 4"><path d="M0.2 0.2 L3.8 3.8 M3.8 0.2 L0.2 3.8" stroke="#b8b8b8" stroke-width="0.6"/></svg></div><div class="tab" style="left:354.60px;width:57.40px;"><span class="d" style="left:6.50px;background:#1E9FFF"></span><span class="abs" style="left:13.00px;top:5.95px;font-size:6.9px;line-height:1;color:#333">方式成绩</span><svg class="abs" style="left:44.60px;top:5.9px" width="4" height="4" viewBox="0 0 4 4"><path d="M0.2 0.2 L3.8 3.8 M3.8 0.2 L0.2 3.8" stroke="#b8b8b8" stroke-width="0.6"/></svg></div><div class="tab" style="left:412.00px;width:57.40px;border-left-color:transparent;"><span class="d" style="left:6.50px;background:#d2d2d2"></span><span class="abs" style="left:14.70px;top:5.95px;font-size:6.9px;line-height:1;color:#9a9a9a">考核记录</span><svg class="abs" style="left:46.80px;top:5.9px" width="4" height="4" viewBox="0 0 4 4"><path d="M0.2 0.2 L3.8 3.8 M3.8 0.2 L0.2 3.8" stroke="#b8b8b8" stroke-width="0.6"/></svg></div><div class="abs" style="left:468.90px;top:0;width:1px;height:16px;background:#f0f0f0"></div><div class="tab" style="left:523px;width:16px"></div><svg class="abs" style="left:529.6px;top:4.7px" width="4" height="6" viewBox="0 0 4 6"><path d="M0.7 0.3 L3.2 3 L0.7 5.7" stroke="#333" stroke-width="0.75" fill="none"/></svg><div class="tab" style="left:539px;width:17px"></div><svg class="abs" style="left:544px;top:5.8px" width="7" height="4" viewBox="0 0 7 4"><path d="M0.4 0.4 L3.5 3.4 L6.6 0.4" stroke="#444" stroke-width="0.75" fill="none"/></svg></div><div class="abs" style="left:93.00px;top:46.60px;width:556.00px;height:315.40px;background:#f2f2f2"></div><div class="abs" style="left:646.00px;top:46.60px;width:3.00px;height:315.40px;background:#fdfdfd"></div><div class="abs" style="left:646.00px;top:46.40px;width:3.00px;height:279.40px;background:#959597;border-radius:1.5px"></div><div class="abs" style="left:100.00px;top:54.00px;width:538.70px;height:308.00px;background:#fff;border-radius:2px 2px 0 0"></div><span class="abs" style="right:497.60px;top:69.55px;font-size:6.5px;color:#333;white-space:nowrap">姓名</span><div class="abs" style="left:160.60px;top:63.90px;width:87.70px;height:17.30px;border:1px solid #ececec;border-left-color:#f4f4f4;background:#fff;border-radius:1.5px"></div><span class="abs" style="left:165.40px;top:69.55px;font-size:6.5px;color:#9a9a9a;white-space:nowrap;">请输入关键字搜索</span><span class="abs" style="right:347.20px;top:70.25px;font-size:6.5px;color:#333;white-space:nowrap">部门</span><div class="abs" style="left:310.70px;top:63.80px;width:87.50px;height:17.50px;border:1px solid #ececec;border-left-color:#f4f4f4;background:#fff;border-radius:1.5px"></div><span class="abs" style="left:315.50px;top:70.25px;font-size:6.5px;color:#9a9a9a;white-space:nowrap;">请选择部门</span><svg class="abs" style="left:389.00px;top:71.00px" width="5" height="3" viewBox="0 0 5 3"><path d="M0 0 H5 L2.5 2.6Z" fill="#c2c2c2"/></svg><span class="abs" style="right:197.00px;top:70.15px;font-size:6.5px;color:#333;white-space:nowrap">职务</span><div class="abs" style="left:461.20px;top:63.60px;width:87.60px;height:17.20px;border:1px solid #ececec;border-left-color:#f4f4f4;background:#fff;border-radius:1.5px"></div><span class="abs" style="left:466.00px;top:70.15px;font-size:6.5px;color:#9a9a9a;white-space:nowrap;">请选择职务</span><svg class="abs" style="left:539.00px;top:70.80px" width="5" height="3" viewBox="0 0 5 3"><path d="M0 0 H5 L2.5 2.6Z" fill="#c2c2c2"/></svg><span class="abs" style="right:497.60px;top:89.95px;font-size:6.5px;color:#333;white-space:nowrap">分组</span><div class="abs" style="left:160.60px;top:84.30px;width:87.70px;height:17.00px;border:1px solid #ececec;border-left-color:#f4f4f4;background:#fff;border-radius:1.5px"></div><span class="abs" style="left:165.40px;top:89.95px;font-size:6.5px;color:#555;white-space:nowrap;">请选择分组</span><svg class="abs" style="left:238.50px;top:91.60px" width="5" height="3" viewBox="0 0 5 3"><path d="M0 0 H5 L2.5 2.6Z" fill="#c2c2c2"/></svg><span class="abs" style="right:347.20px;top:89.95px;font-size:6.5px;color:#333;white-space:nowrap">考核时间</span><div class="abs" style="left:310.70px;top:84.30px;width:87.50px;height:17.00px;border:1px solid #ececec;border-left-color:#f4f4f4;background:#fff;border-radius:1.5px"></div><span class="abs" style="left:315.50px;top:90.01px;font-size:6.3px;color:#333;white-space:nowrap;">2021-03-11</span><div class="abs" style="left:410.00px;top:83.90px;width:39.50px;height:17.80px;background:#009688;border-radius:1.5px"></div><svg class="abs" style="left:418.6px;top:88.90px" width="8" height="8" viewBox="0 0 8 8"><circle cx="3.3" cy="3.3" r="2.6" stroke="#fff" stroke-width="0.9" fill="none"/><path d="M5.2 5.2 L7.4 7.4" stroke="#fff" stroke-width="1.2"/></svg><span class="abs" style="left:428.00px;top:91.15px;font-size:6.5px;color:#fff;white-space:nowrap;">搜索</span><div class="abs" style="left:109.30px;top:104.10px;width:197.40px;height:17.60px;background:#009688;border-radius:1.5px"></div><div class="abs" style="left:153.50px;top:104.10px;width:1.00px;height:17.60px;background:#3aab9f"></div><div class="abs" style="left:193.50px;top:104.10px;width:1.00px;height:17.60px;background:#3aab9f"></div><div class="abs" style="left:250.20px;top:104.10px;width:1.00px;height:17.60px;background:#3aab9f"></div><span class="abs" style="left:119.10px;top:109.85px;font-size:6.5px;color:#fff;white-space:nowrap;">更新成绩</span><svg class="abs" style="left:163px;top:108.50px" width="7.2" height="7" viewBox="0 0 7.2 7"><path d="M0 3.2 H2 V4.4 H5 V3.2 H6.2 V6.6 H0Z" fill="#fff"/><path d="M2.6 3.8 V2 H1.6 L3.6 0 L5.6 2 H4.6 V3.8Z" fill="#fff"/></svg><span class="abs" style="left:172.60px;top:110.05px;font-size:6.5px;color:#fff;white-space:nowrap;">导出</span><svg class="abs" style="left:202px;top:110.00px" width="7" height="5" viewBox="0 0 7 5"><path d="M0.4 0 V4.6 H7" stroke="#fff" stroke-width="0.8" fill="none"/><rect x="1.6" y="2.4" width="1" height="1.9" fill="#fff"/><rect x="3.2" y="1" width="1" height="3.3" fill="#fff"/><rect x="4.8" y="1.8" width="1" height="2.5" fill="#fff"/></svg><span class="abs" style="left:209.40px;top:110.05px;font-size:6.5px;color:#fff;white-space:nowrap;">查看柱状图</span><svg class="abs" style="left:258.7px;top:109.80px" width="6" height="6" viewBox="0 0 6 6"><path d="M3 0.3 A2.7 2.7 0 1 0 5.7 3 H3Z" fill="#fff"/><path d="M3.4 0 A2.7 2.7 0 0 1 6 2.6 H3.4Z" fill="#fff"/></svg><span class="abs" style="left:265.00px;top:110.05px;font-size:6.5px;color:#fff;white-space:nowrap;">查看饼状图</span><div class="abs" style="left:105.00px;top:132.00px;width:529.00px;height:18.00px;background:#f2f2f2"></div><div class="abs" style="left:105.00px;top:131.00px;width:529.00px;height:1.00px;background:#f6f6f6"></div><div class="abs" style="left:105.00px;top:150.00px;width:529.00px;height:1.00px;background:#e8e8e8"></div><div class="abs" style="left:105.00px;top:132.00px;width:1.00px;height:230.00px;background:#fafafa"></div><div class="abs" style="left:241.00px;top:132.00px;width:1.00px;height:230.00px;background:#e6e6e6"></div><div class="abs" style="left:286.00px;top:132.00px;width:1.00px;height:230.00px;background:#fafafa"></div><div class="abs" style="left:345.00px;top:132.00px;width:1.00px;height:230.00px;background:#ebebeb"></div><div class="abs" style="left:389.00px;top:132.00px;width:1.00px;height:230.00px;background:#e8e8e8"></div><div class="abs" style="left:433.00px;top:132.00px;width:1.00px;height:230.00px;background:#e6e6e6"></div><div class="abs" style="left:472.00px;top:132.00px;width:1.00px;height:230.00px;background:#e6e6e6"></div><div class="abs" style="left:517.00px;top:132.00px;width:1.00px;height:230.00px;background:#f9f9f9"></div><div class="abs" style="left:563.00px;top:132.00px;width:1.00px;height:230.00px;background:#f6f6f6"></div><div class="abs" style="left:602.00px;top:132.00px;width:1.00px;height:230.00px;background:#ebebeb"></div><div class="abs" style="left:633.00px;top:132.00px;width:1.00px;height:230.00px;background:#fafafa"></div><span class="abs" style="left:112.30px;top:139.35px;font-size:6.5px;color:#666;white-space:nowrap;">姓名</span><span class="abs" style="left:164.50px;top:139.35px;font-size:6.5px;color:#666;white-space:nowrap;">部门</span><span class="abs" style="left:202.80px;top:139.35px;font-size:6.5px;color:#666;white-space:nowrap;">职务</span><span class="abs" style="left:248.80px;top:139.35px;font-size:6.5px;color:#666;white-space:nowrap;">考核分组</span><span class="abs" style="left:293.40px;top:139.35px;font-size:6.5px;color:#666;white-space:nowrap;">直接领导(50)</span><span class="abs" style="left:353.20px;top:139.35px;font-size:6.5px;color:#666;white-space:nowrap;">自评(20)</span><span class="abs" style="left:396.90px;top:139.35px;font-size:6.5px;color:#666;white-space:nowrap;">互评(30)</span><span class="abs" style="left:440.70px;top:139.35px;font-size:6.5px;color:#666;white-space:nowrap;">考核分</span><span class="abs" style="left:479.40px;top:139.35px;font-size:6.5px;color:#666;white-space:nowrap;">特殊加分</span><span class="abs" style="left:524.60px;top:139.35px;font-size:6.5px;color:#666;white-space:nowrap;">特殊减分</span><span class="abs" style="left:571.00px;top:139.35px;font-size:6.5px;color:#666;white-space:nowrap;">总分</span><span class="abs" style="left:609.70px;top:139.35px;font-size:6.5px;color:#666;white-space:nowrap;">名次</span><span class="abs" style="left:112.30px;top:157.86px;font-size:6.5px;color:#666;white-space:nowrap;">五一路支行</span><span class="abs" style="left:248.80px;top:157.86px;font-size:6.5px;color:#666;white-space:nowrap;">员工</span><span class="abs" style="left:293.40px;top:157.92px;font-size:6.3px;color:#666;white-space:nowrap;">107.5</span><span class="abs" style="left:353.20px;top:157.92px;font-size:6.3px;color:#666;white-space:nowrap;">0</span><span class="abs" style="left:396.90px;top:157.92px;font-size:6.3px;color:#666;white-space:nowrap;">0</span><span class="abs" style="left:440.70px;top:157.92px;font-size:6.3px;color:#666;white-space:nowrap;">107.50</span><span class="abs" style="left:479.40px;top:157.92px;font-size:6.3px;color:#666;white-space:nowrap;">5.00</span><span class="abs" style="left:524.60px;top:157.92px;font-size:6.3px;color:#666;white-space:nowrap;">0.00</span><span class="abs" style="left:571.00px;top:157.92px;font-size:6.3px;color:#666;white-space:nowrap;">112.50</span><span class="abs" style="left:609.70px;top:157.92px;font-size:6.3px;color:#666;white-space:nowrap;">1</span><div class="abs" style="left:105.00px;top:169.00px;width:529.00px;height:1.00px;background:#f8f8f8"></div><span class="abs" style="left:112.30px;top:176.28px;font-size:6.5px;color:#666;white-space:nowrap;">人民路支行</span><span class="abs" style="left:248.80px;top:176.28px;font-size:6.5px;color:#666;white-space:nowrap;">员工</span><span class="abs" style="left:293.40px;top:176.34px;font-size:6.3px;color:#666;white-space:nowrap;">61.5</span><span class="abs" style="left:353.20px;top:176.34px;font-size:6.3px;color:#666;white-space:nowrap;">0</span><span class="abs" style="left:396.90px;top:176.34px;font-size:6.3px;color:#666;white-space:nowrap;">0</span><span class="abs" style="left:440.70px;top:176.34px;font-size:6.3px;color:#666;white-space:nowrap;">61.50</span><span class="abs" style="left:479.40px;top:176.34px;font-size:6.3px;color:#666;white-space:nowrap;">5.00</span><span class="abs" style="left:524.60px;top:176.34px;font-size:6.3px;color:#666;white-space:nowrap;">0.00</span><span class="abs" style="left:571.00px;top:176.34px;font-size:6.3px;color:#666;white-space:nowrap;">66.50</span><span class="abs" style="left:609.70px;top:176.34px;font-size:6.3px;color:#666;white-space:nowrap;">2</span><div class="abs" style="left:105.00px;top:187.00px;width:529.00px;height:1.00px;background:#efefef"></div><span class="abs" style="left:112.30px;top:194.70px;font-size:6.5px;color:#666;white-space:nowrap;">绩效考核</span><span class="abs" style="left:248.80px;top:194.70px;font-size:6.5px;color:#666;white-space:nowrap;">中层领导</span><span class="abs" style="left:293.40px;top:194.76px;font-size:6.3px;color:#666;white-space:nowrap;">0</span><span class="abs" style="left:353.20px;top:194.76px;font-size:6.3px;color:#666;white-space:nowrap;">0</span><span class="abs" style="left:396.90px;top:194.76px;font-size:6.3px;color:#666;white-space:nowrap;">0</span><span class="abs" style="left:440.70px;top:194.76px;font-size:6.3px;color:#666;white-space:nowrap;">0.00</span><span class="abs" style="left:479.40px;top:194.76px;font-size:6.3px;color:#666;white-space:nowrap;">5.00</span><span class="abs" style="left:524.60px;top:194.76px;font-size:6.3px;color:#666;white-space:nowrap;">0.00</span><span class="abs" style="left:571.00px;top:194.76px;font-size:6.3px;color:#666;white-space:nowrap;">5.00</span><span class="abs" style="left:609.70px;top:194.76px;font-size:6.3px;color:#666;white-space:nowrap;">3</span><div class="abs" style="left:105.00px;top:205.00px;width:529.00px;height:1.00px;background:#efefef"></div><span class="abs" style="left:112.30px;top:213.12px;font-size:6.5px;color:#666;white-space:nowrap;">中原路支行</span><span class="abs" style="left:164.50px;top:213.12px;font-size:6.5px;color:#666;white-space:nowrap;">总经理</span><span class="abs" style="left:202.80px;top:213.12px;font-size:6.5px;color:#666;white-space:nowrap;">总经理</span><span class="abs" style="left:248.80px;top:213.12px;font-size:6.5px;color:#666;white-space:nowrap;">公司领导</span><span class="abs" style="left:293.40px;top:213.18px;font-size:6.3px;color:#666;white-space:nowrap;">0</span><span class="abs" style="left:353.20px;top:213.18px;font-size:6.3px;color:#666;white-space:nowrap;">0</span><span class="abs" style="left:396.90px;top:213.18px;font-size:6.3px;color:#666;white-space:nowrap;">0</span><span class="abs" style="left:440.70px;top:213.18px;font-size:6.3px;color:#666;white-space:nowrap;">0.00</span><span class="abs" style="left:479.40px;top:213.18px;font-size:6.3px;color:#666;white-space:nowrap;">5.00</span><span class="abs" style="left:524.60px;top:213.18px;font-size:6.3px;color:#666;white-space:nowrap;">0.00</span><span class="abs" style="left:571.00px;top:213.18px;font-size:6.3px;color:#666;white-space:nowrap;">5.00</span><span class="abs" style="left:609.70px;top:213.18px;font-size:6.3px;color:#666;white-space:nowrap;">1</span><div class="abs" style="left:105.00px;top:224.00px;width:529.00px;height:1.00px;background:#efefef"></div><span class="abs" style="left:112.30px;top:231.60px;font-size:6.3px;color:#666;white-space:nowrap;">Y001</span><span class="abs" style="left:164.50px;top:231.54px;font-size:6.5px;color:#666;white-space:nowrap;">开发部</span><span class="abs" style="left:202.80px;top:231.54px;font-size:6.5px;color:#666;white-space:nowrap;">副总经理</span><span class="abs" style="left:248.80px;top:231.54px;font-size:6.5px;color:#666;white-space:nowrap;">中层领导</span><span class="abs" style="left:293.40px;top:231.60px;font-size:6.3px;color:#666;white-space:nowrap;">0</span><span class="abs" style="left:353.20px;top:231.60px;font-size:6.3px;color:#666;white-space:nowrap;">0</span><span class="abs" style="left:396.90px;top:231.60px;font-size:6.3px;color:#666;white-space:nowrap;">0</span><span class="abs" style="left:440.70px;top:231.60px;font-size:6.3px;color:#666;white-space:nowrap;">0.00</span><span class="abs" style="left:479.40px;top:231.60px;font-size:6.3px;color:#666;white-space:nowrap;">5.00</span><span class="abs" style="left:524.60px;top:231.60px;font-size:6.3px;color:#666;white-space:nowrap;">0.00</span><span class="abs" style="left:571.00px;top:231.60px;font-size:6.3px;color:#666;white-space:nowrap;">5.00</span><span class="abs" style="left:609.70px;top:231.60px;font-size:6.3px;color:#666;white-space:nowrap;">1</span><div class="abs" style="left:105.00px;top:242.00px;width:529.00px;height:1.00px;background:#efefef"></div><span class="abs" style="left:112.30px;top:250.02px;font-size:6.3px;color:#666;white-space:nowrap;">Y002</span><span class="abs" style="left:202.80px;top:249.96px;font-size:6.5px;color:#666;white-space:nowrap;">副总经理</span><span class="abs" style="left:248.80px;top:249.96px;font-size:6.5px;color:#666;white-space:nowrap;">员工</span><span class="abs" style="left:293.40px;top:250.02px;font-size:6.3px;color:#666;white-space:nowrap;">0</span><span class="abs" style="left:353.20px;top:250.02px;font-size:6.3px;color:#666;white-space:nowrap;">0</span><span class="abs" style="left:396.90px;top:250.02px;font-size:6.3px;color:#666;white-space:nowrap;">0</span><span class="abs" style="left:440.70px;top:250.02px;font-size:6.3px;color:#666;white-space:nowrap;">0.00</span><span class="abs" style="left:479.40px;top:250.02px;font-size:6.3px;color:#666;white-space:nowrap;">5.00</span><span class="abs" style="left:524.60px;top:250.02px;font-size:6.3px;color:#666;white-space:nowrap;">0.00</span><span class="abs" style="left:571.00px;top:250.02px;font-size:6.3px;color:#666;white-space:nowrap;">5.00</span><span class="abs" style="left:609.70px;top:250.02px;font-size:6.3px;color:#666;white-space:nowrap;">3</span><div class="abs" style="left:105.00px;top:261.00px;width:529.00px;height:1.00px;background:#efefef"></div><span class="abs" style="left:112.30px;top:268.44px;font-size:6.3px;color:#666;white-space:nowrap;">xx002</span><span class="abs" style="left:164.50px;top:268.38px;font-size:6.5px;color:#666;white-space:nowrap;">总经理</span><span class="abs" style="left:202.80px;top:268.38px;font-size:6.5px;color:#666;white-space:nowrap;">总经理</span><span class="abs" style="left:248.80px;top:268.38px;font-size:6.5px;color:#666;white-space:nowrap;">员工</span><span class="abs" style="left:293.40px;top:268.44px;font-size:6.3px;color:#666;white-space:nowrap;">0</span><span class="abs" style="left:353.20px;top:268.44px;font-size:6.3px;color:#666;white-space:nowrap;">0</span><span class="abs" style="left:396.90px;top:268.44px;font-size:6.3px;color:#666;white-space:nowrap;">0</span><span class="abs" style="left:440.70px;top:268.44px;font-size:6.3px;color:#666;white-space:nowrap;">0.00</span><span class="abs" style="left:479.40px;top:268.44px;font-size:6.3px;color:#666;white-space:nowrap;">5.00</span><span class="abs" style="left:524.60px;top:268.44px;font-size:6.3px;color:#666;white-space:nowrap;">0.00</span><span class="abs" style="left:571.00px;top:268.44px;font-size:6.3px;color:#666;white-space:nowrap;">5.00</span><span class="abs" style="left:609.70px;top:268.44px;font-size:6.3px;color:#666;white-space:nowrap;">1</span><div class="abs" style="left:105.00px;top:279.00px;width:529.00px;height:1.00px;background:#efefef"></div><span class="abs" style="left:112.30px;top:286.86px;font-size:6.3px;color:#666;white-space:nowrap;">xx003</span><span class="abs" style="left:164.50px;top:286.80px;font-size:6.5px;color:#666;white-space:nowrap;">总经理</span><span class="abs" style="left:202.80px;top:286.80px;font-size:6.5px;color:#666;white-space:nowrap;">总经理</span><span class="abs" style="left:248.80px;top:286.80px;font-size:6.5px;color:#666;white-space:nowrap;">员工</span><span class="abs" style="left:293.40px;top:286.86px;font-size:6.3px;color:#666;white-space:nowrap;">0</span><span class="abs" style="left:353.20px;top:286.86px;font-size:6.3px;color:#666;white-space:nowrap;">0</span><span class="abs" style="left:396.90px;top:286.86px;font-size:6.3px;color:#666;white-space:nowrap;">0</span><span class="abs" style="left:440.70px;top:286.86px;font-size:6.3px;color:#666;white-space:nowrap;">0.00</span><span class="abs" style="left:479.40px;top:286.86px;font-size:6.3px;color:#666;white-space:nowrap;">5.00</span><span class="abs" style="left:524.60px;top:286.86px;font-size:6.3px;color:#666;white-space:nowrap;">0.00</span><span class="abs" style="left:571.00px;top:286.86px;font-size:6.3px;color:#666;white-space:nowrap;">5.00</span><span class="abs" style="left:609.70px;top:286.86px;font-size:6.3px;color:#666;white-space:nowrap;">1</span><div class="abs" style="left:105.00px;top:297.00px;width:529.00px;height:1.00px;background:#efefef"></div><span class="abs" style="left:112.30px;top:305.28px;font-size:6.3px;color:#666;white-space:nowrap;">xx004</span><span class="abs" style="left:164.50px;top:305.22px;font-size:6.5px;color:#666;white-space:nowrap;">总经理</span><span class="abs" style="left:202.80px;top:305.22px;font-size:6.5px;color:#666;white-space:nowrap;">总经理</span><span class="abs" style="left:248.80px;top:305.22px;font-size:6.5px;color:#666;white-space:nowrap;">员工</span><span class="abs" style="left:293.40px;top:305.28px;font-size:6.3px;color:#666;white-space:nowrap;">0</span><span class="abs" style="left:353.20px;top:305.28px;font-size:6.3px;color:#666;white-space:nowrap;">0</span><span class="abs" style="left:396.90px;top:305.28px;font-size:6.3px;color:#666;white-space:nowrap;">0</span><span class="abs" style="left:440.70px;top:305.28px;font-size:6.3px;color:#666;white-space:nowrap;">0.00</span><span class="abs" style="left:479.40px;top:305.28px;font-size:6.3px;color:#666;white-space:nowrap;">5.00</span><span class="abs" style="left:524.60px;top:305.28px;font-size:6.3px;color:#666;white-space:nowrap;">0.00</span><span class="abs" style="left:571.00px;top:305.28px;font-size:6.3px;color:#666;white-space:nowrap;">5.00</span><span class="abs" style="left:609.70px;top:305.28px;font-size:6.3px;color:#666;white-space:nowrap;">1</span><div class="abs" style="left:105.00px;top:316.00px;width:529.00px;height:1.00px;background:#efefef"></div><span class="abs" style="left:112.30px;top:323.70px;font-size:6.3px;color:#666;white-space:nowrap;">xx005</span><span class="abs" style="left:164.50px;top:323.64px;font-size:6.5px;color:#666;white-space:nowrap;">总经理</span><span class="abs" style="left:202.80px;top:323.64px;font-size:6.5px;color:#666;white-space:nowrap;">总经理</span><span class="abs" style="left:248.80px;top:323.64px;font-size:6.5px;color:#666;white-space:nowrap;">员工</span><span class="abs" style="left:293.40px;top:323.70px;font-size:6.3px;color:#666;white-space:nowrap;">0</span><span class="abs" style="left:353.20px;top:323.70px;font-size:6.3px;color:#666;white-space:nowrap;">0</span><span class="abs" style="left:396.90px;top:323.70px;font-size:6.3px;color:#666;white-space:nowrap;">0</span><span class="abs" style="left:440.70px;top:323.70px;font-size:6.3px;color:#666;white-space:nowrap;">0.00</span><span class="abs" style="left:479.40px;top:323.70px;font-size:6.3px;color:#666;white-space:nowrap;">5.00</span><span class="abs" style="left:524.60px;top:323.70px;font-size:6.3px;color:#666;white-space:nowrap;">0.00</span><span class="abs" style="left:571.00px;top:323.70px;font-size:6.3px;color:#666;white-space:nowrap;">5.00</span><span class="abs" style="left:609.70px;top:323.70px;font-size:6.3px;color:#666;white-space:nowrap;">1</span><div class="abs" style="left:105.00px;top:334.00px;width:529.00px;height:1.00px;background:#efefef"></div><span class="abs" style="left:112.30px;top:342.12px;font-size:6.3px;color:#666;white-space:nowrap;">xx006</span><span class="abs" style="left:164.50px;top:342.06px;font-size:6.5px;color:#666;white-space:nowrap;">总经理</span><span class="abs" style="left:202.80px;top:342.06px;font-size:6.5px;color:#666;white-space:nowrap;">总经理</span><span class="abs" style="left:248.80px;top:342.06px;font-size:6.5px;color:#666;white-space:nowrap;">员工</span><span class="abs" style="left:293.40px;top:342.12px;font-size:6.3px;color:#666;white-space:nowrap;">0</span><span class="abs" style="left:353.20px;top:342.12px;font-size:6.3px;color:#666;white-space:nowrap;">0</span><span class="abs" style="left:396.90px;top:342.12px;font-size:6.3px;color:#666;white-space:nowrap;">0</span><span class="abs" style="left:440.70px;top:342.12px;font-size:6.3px;color:#666;white-space:nowrap;">0.00</span><span class="abs" style="left:479.40px;top:342.12px;font-size:6.3px;color:#666;white-space:nowrap;">5.00</span><span class="abs" style="left:524.60px;top:342.12px;font-size:6.3px;color:#666;white-space:nowrap;">0.00</span><span class="abs" style="left:571.00px;top:342.12px;font-size:6.3px;color:#666;white-space:nowrap;">5.00</span><span class="abs" style="left:609.70px;top:342.12px;font-size:6.3px;color:#666;white-space:nowrap;">1</span><div class="abs" style="left:105.00px;top:353.00px;width:529.00px;height:1.00px;background:#efefef"></div><span class="abs" style="left:112.30px;top:360.54px;font-size:6.3px;color:#666;white-space:nowrap;">xx007</span><span class="abs" style="left:164.50px;top:360.48px;font-size:6.5px;color:#666;white-space:nowrap;">总经理</span><span class="abs" style="left:202.80px;top:360.48px;font-size:6.5px;color:#666;white-space:nowrap;">总经理</span><span class="abs" style="left:248.80px;top:360.48px;font-size:6.5px;color:#666;white-space:nowrap;">员工</span><span class="abs" style="left:293.40px;top:360.54px;font-size:6.3px;color:#666;white-space:nowrap;">0</span><span class="abs" style="left:353.20px;top:360.54px;font-size:6.3px;color:#666;white-space:nowrap;">0</span><span class="abs" style="left:396.90px;top:360.54px;font-size:6.3px;color:#666;white-space:nowrap;">0</span><span class="abs" style="left:440.70px;top:360.54px;font-size:6.3px;color:#666;white-space:nowrap;">0.00</span><span class="abs" style="left:479.40px;top:360.54px;font-size:6.3px;color:#666;white-space:nowrap;">5.00</span><span class="abs" style="left:524.60px;top:360.54px;font-size:6.3px;color:#666;white-space:nowrap;">0.00</span><span class="abs" style="left:571.00px;top:360.54px;font-size:6.3px;color:#666;white-space:nowrap;">5.00</span><span class="abs" style="left:609.70px;top:360.54px;font-size:6.3px;color:#666;white-space:nowrap;">1</span><div class="rstrip"></div></div>
<div class="sep" style="top:729px"><i style="left:0;width:8px;background:#3f7fb5"></i><i style="left:277px;width:31px"></i><i style="left:373px;width:31px"></i><i style="left:537px;width:112px;background:#6c8297"></i></div>
</body></html>
